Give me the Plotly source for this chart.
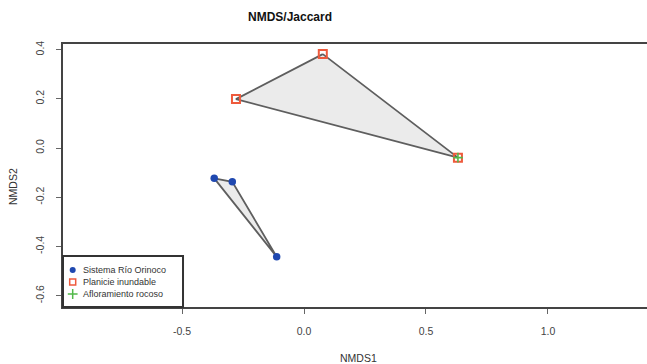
import plotly.graph_objects as go

# Data
orinoco_x = [-0.368, -0.294, -0.112]
orinoco_y = [-0.123, -0.137, -0.442]
planicie_x = [0.077, -0.279, 0.631]
planicie_y = [0.382, 0.199, -0.039]
aflor_x = [0.631]
aflor_y = [-0.039]

legend_labels = ["Sistema Río Orinoco", "Planicie inundable", "Afloramiento rocoso"]
x_ticks = [-0.5, 0.0, 0.5, 1.0]
y_ticks = [-0.6, -0.4, -0.2, 0.0, 0.2, 0.4]

BLUE = "#1f48b0"
RED = "#ee5a3c"
GREEN = "#52b94a"
HULL_FILL = "#ebebeb"
HULL_LINE = "#5e5e5e"
FONT = "Liberation Sans, Arial, sans-serif"

fig = go.Figure()

def hull_trace(xs, ys):
    return go.Scatter(x=xs + [xs[0]], y=ys + [ys[0]], mode="lines", fill="toself",
                      fillcolor=HULL_FILL, line=dict(color=HULL_LINE, width=1.8),
                      showlegend=False, hoverinfo="skip")

fig.add_trace(hull_trace(planicie_x, planicie_y))
fig.add_trace(hull_trace(orinoco_x, orinoco_y))

fig.add_trace(go.Scatter(x=orinoco_x, y=orinoco_y, mode="markers",
                         marker=dict(symbol="circle", size=7.5, color=BLUE),
                         showlegend=False))
fig.add_trace(go.Scatter(x=planicie_x, y=planicie_y, mode="markers",
                         marker=dict(symbol="square-open", size=8, color=RED,
                                     line=dict(width=2, color=RED)),
                         showlegend=False))
fig.add_trace(go.Scatter(x=aflor_x, y=aflor_y, mode="markers",
                         marker=dict(symbol="cross-thin", size=7, color=GREEN,
                                     line=dict(width=1.6, color=GREEN)),
                         showlegend=False))

# Manual legend (R-style), drawn on auxiliary 0..1 axes
leg_sym_x = 0.0166
leg_txt_x = 0.031
leg_rows = [0.1407, 0.0951, 0.0494]
leg_syms = [dict(symbol="circle", size=6, color=BLUE),
            dict(symbol="square-open", size=6, color=RED, line=dict(width=1.5, color=RED)),
            dict(symbol="cross-thin", size=7, color=GREEN, line=dict(width=1.5, color=GREEN))]
for lab, yy, sym in zip(legend_labels, leg_rows, leg_syms):
    fig.add_trace(go.Scatter(x=[leg_sym_x], y=[yy], mode="markers", marker=sym,
                             xaxis="x2", yaxis="y2", showlegend=False, hoverinfo="skip"))
    fig.add_annotation(x=leg_txt_x, y=yy, xref="paper", yref="paper", text=lab,
                       showarrow=False, xanchor="left", yanchor="middle",
                       font=dict(family=FONT, size=9, color="#333"))

fig.add_shape(type="rect", xref="paper", yref="paper", x0=0, x1=0.2055, y0=0, y1=0.194,
              line=dict(color="#333", width=2), fillcolor="rgba(0,0,0,0)", layer="above")

fig.update_layout(
    width=647, height=364,
    margin=dict(l=63, r=0, t=44, b=57),
    plot_bgcolor="white", paper_bgcolor="white",
    font=dict(family=FONT, color="#333"),
    title=dict(text="<b>NMDS/Jaccard</b>", x=290/647, xanchor="center",
               y=1 - 17/364, yanchor="middle", yref="container",
               font=dict(family=FONT, size=12, color="#111")),
    xaxis=dict(range=[-0.988, 1.406], tickvals=x_ticks, ticktext=[f"{v:.1f}" for v in x_ticks],
               showgrid=False, zeroline=False, showline=True, mirror=True,
               linecolor="#444", linewidth=2, ticks="outside", ticklen=5, tickwidth=1,
               tickcolor="#666", tickfont=dict(size=10.5, color="#444"),
               ticklabelstandoff=8),
    yaxis=dict(range=[-0.646, 0.423], tickvals=y_ticks, ticktext=[f"{v:.1f}" for v in y_ticks],
               showgrid=False, zeroline=False, showline=True, mirror=False,
               linecolor="#444", linewidth=2, ticks="outside", ticklen=5, tickwidth=1,
               tickcolor="#666", tickfont=dict(size=10.5, color="#444"),
               tickangle=-90, ticklabelstandoff=8),
    xaxis2=dict(range=[0, 1], overlaying="x", visible=False),
    yaxis2=dict(range=[0, 1], overlaying="y", visible=False),
    showlegend=False,
)

fig.add_annotation(text="NMDS1", xref="paper", yref="paper",
                   x=(358 - 63) / 584, y=(307 - 358) / 263, xanchor="center", yanchor="middle",
                   showarrow=False, font=dict(family=FONT, size=10.5, color="#333"))
fig.add_annotation(text="NMDS2", xref="paper", yref="paper", x=(13 - 63) / 584,
                   y=(307 - 187) / 263, xanchor="center", yanchor="middle",
                   textangle=-90, showarrow=False,
                   font=dict(family=FONT, size=10.5, color="#333"))

fig.write_html("out.html", config={"displayModeBar": False},
               post_script="document.body.style.margin='0';")
